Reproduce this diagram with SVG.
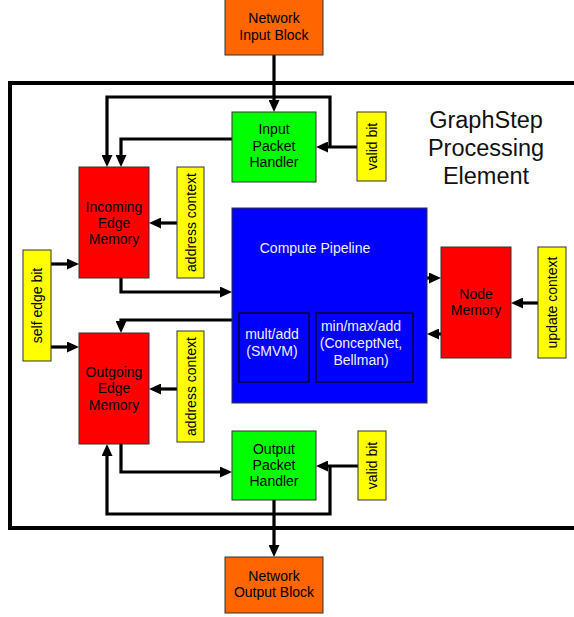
<svg xmlns="http://www.w3.org/2000/svg" width="574" height="617" viewBox="0 0 574 617">
  <style>
    .box { stroke: #333333; stroke-width: 1; }
    .net { fill: #FF6600; }
    .pkt { fill: #00FF00; }
    .mem { fill: #FF0000; }
    .ctx { fill: #FFFF00; }
    .cpu { fill: #0000FF; }
    .sub { fill: #0000FF; stroke: #000000; stroke-width: 1.2; }
    text { font-family: "Liberation Sans", Arial, sans-serif; font-size: 14px; fill: #000000; text-anchor: middle; }
    .light { fill: #F0F0F0; }
    .title { font-size: 23.5px; fill: #111111; }
    .wire { fill: none; stroke: #000000; stroke-width: 3.2; stroke-linejoin: miter; }
  </style>
  <defs>
    <marker id="arrow" viewBox="0 0 12 11" refX="6" refY="5.5" markerWidth="12" markerHeight="11" markerUnits="userSpaceOnUse" orient="auto">
      <path d="M0,0 L12,5.5 L0,11 Z" fill="#000000"/>
    </marker>
  </defs>

  <rect width="574" height="617" fill="#FFFFFF"/>

  <!-- processing element frame -->
  <rect x="10" y="83" width="600" height="445" fill="none" stroke="#000000" stroke-width="4"/>

  <g id="title">
    <text class="title" x="486" y="128">GraphStep</text>
    <text class="title" x="486" y="156">Processing</text>
    <text class="title" x="486" y="184">Element</text>
  </g>

  <g id="connectors">
    <path class="wire" d="M274,55 V106" marker-end="url(#arrow)"/>
    <path class="wire" d="M357,147 H322" marker-end="url(#arrow)"/>
    <path class="wire" d="M330,147 V97 H107 V161" marker-end="url(#arrow)"/>
    <path class="wire" d="M232,139 H121 V161" marker-end="url(#arrow)"/>
    <path class="wire" d="M177,223 H155" marker-end="url(#arrow)"/>
    <path class="wire" d="M51,264 H73" marker-end="url(#arrow)"/>
    <path class="wire" d="M51,347 H73" marker-end="url(#arrow)"/>
    <path class="wire" d="M121,278 V292 H226" marker-end="url(#arrow)"/>
    <path class="wire" d="M232,320 H121 V327" marker-end="url(#arrow)"/>
    <path class="wire" d="M177,389 H155" marker-end="url(#arrow)"/>
    <path class="wire" d="M427,278 H435" marker-end="url(#arrow)"/>
    <path class="wire" d="M441,334 H433" marker-end="url(#arrow)"/>
    <path class="wire" d="M538,303 H517" marker-end="url(#arrow)"/>
    <path class="wire" d="M121,444 V472 H226" marker-end="url(#arrow)"/>
    <path class="wire" d="M358,466 H322" marker-end="url(#arrow)"/>
    <path class="wire" d="M330,466 V514 H107 V450" marker-end="url(#arrow)"/>
    <path class="wire" d="M274,500 V551" marker-end="url(#arrow)"/>
  </g>

  <g id="network-input">
    <rect class="box net" x="225" y="-1" width="98" height="56"/>
    <text x="274" y="23">Network</text>
    <text x="274" y="40">Input Block</text>
  </g>

  <g id="input-packet-handler">
    <rect class="box pkt" x="232" y="112" width="84" height="70"/>
    <text x="274" y="134">Input</text>
    <text x="274" y="151">Packet</text>
    <text x="274" y="167">Handler</text>
  </g>

  <g id="input-valid-bit">
    <rect class="box ctx" x="357" y="112" width="29" height="69"/>
    <text transform="translate(376.5,146.5) rotate(-90)">valid bit</text>
  </g>

  <g id="incoming-edge-memory">
    <rect class="box mem" x="79" y="167" width="70" height="111"/>
    <text x="114" y="212">Incoming</text>
    <text x="114" y="228">Edge</text>
    <text x="114" y="244">Memory</text>
  </g>

  <g id="incoming-address-context">
    <rect class="box ctx" x="177" y="167" width="27" height="111"/>
    <text transform="translate(195.5,222.5) rotate(-90)">address context</text>
  </g>

  <g id="self-edge-bit">
    <rect class="box ctx" x="23" y="250" width="28" height="111"/>
    <text transform="translate(42,305.5) rotate(-90)">self edge bit</text>
  </g>

  <g id="outgoing-edge-memory">
    <rect class="box mem" x="79" y="333" width="70" height="111"/>
    <text x="114" y="377">Outgoing</text>
    <text x="114" y="393">Edge</text>
    <text x="114" y="410">Memory</text>
  </g>

  <g id="outgoing-address-context">
    <rect class="box ctx" x="177" y="331" width="27" height="111"/>
    <text transform="translate(195.5,386.5) rotate(-90)">address context</text>
  </g>

  <g id="compute-pipeline">
    <rect class="box cpu" x="232" y="208" width="195" height="195"/>
    <text class="light" x="315" y="253">Compute Pipeline</text>
    <rect class="sub" x="239" y="313" width="70" height="69"/>
    <text class="light" x="272" y="339">mult/add</text>
    <text class="light" x="272" y="356">(SMVM)</text>
    <rect class="sub" x="316" y="313" width="97" height="69"/>
    <text class="light" x="361" y="331">min/max/add</text>
    <text class="light" x="361" y="348">(ConceptNet,</text>
    <text class="light" x="361" y="365">Bellman)</text>
  </g>

  <g id="node-memory">
    <rect class="box mem" x="441" y="247" width="70" height="111"/>
    <text x="476" y="299">Node</text>
    <text x="476" y="315">Memory</text>
  </g>

  <g id="update-context">
    <rect class="box ctx" x="538" y="247" width="28" height="111"/>
    <text transform="translate(557,302.5) rotate(-90)">update context</text>
  </g>

  <g id="output-packet-handler">
    <rect class="box pkt" x="232" y="431" width="84" height="69"/>
    <text x="274" y="454">Output</text>
    <text x="274" y="470">Packet</text>
    <text x="274" y="486">Handler</text>
  </g>

  <g id="output-valid-bit">
    <rect class="box ctx" x="358" y="431" width="28" height="69"/>
    <text transform="translate(377,465.5) rotate(-90)">valid bit</text>
  </g>

  <g id="network-output">
    <rect class="box net" x="225" y="557" width="98" height="56"/>
    <text x="274" y="581">Network</text>
    <text x="274" y="597">Output Block</text>
  </g>
</svg>
